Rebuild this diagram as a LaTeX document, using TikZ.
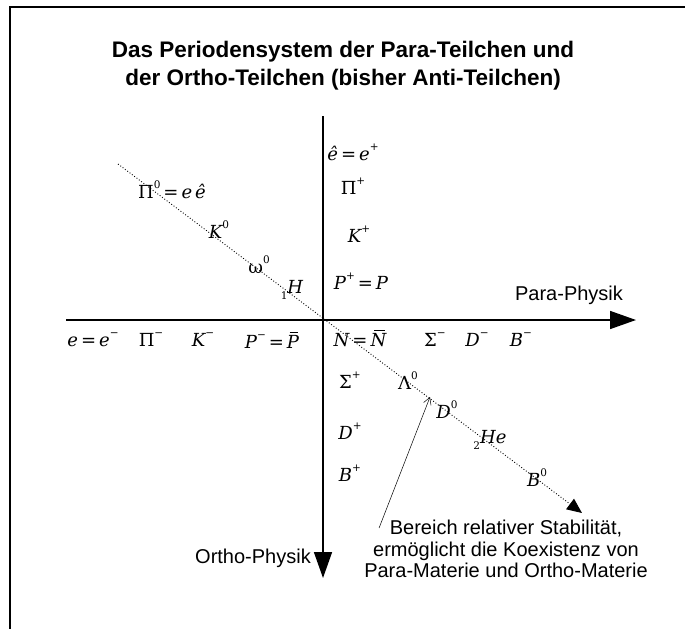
\documentclass[tikz,border=0pt]{standalone}
\usepackage{fontspec}
\setsansfont{Liberation Sans}
\newfontfamily\partfont{DejaVu Serif}
\usetikzlibrary{arrows.meta,calc}

% charge as a small raised index, nucleon number as a lowered one
\newcommand{\charge}[1]{\raisebox{0.55em}{\upshape\fontsize{10.5}{10.5}\selectfont#1}}
\newcommand{\nucl}[1]{\raisebox{-0.3em}{\upshape\fontsize{10.5}{10.5}\selectfont#1}}
\newcommand{\grk}[1]{{\upshape#1}}
\newcommand{\anti}[1]{\setbox0\hbox{#1}\rlap{\kern0.22\wd0\rule[0.86em]{0.7\wd0}{0.06em}}\box0}

\begin{document}
\begin{tikzpicture}[
    x=1pt, y=-1pt,
    particle/.style={
        inner sep=0pt,
        font=\partfont\itshape\fontsize{18}{20}\selectfont
    },
    caption/.style={
        inner sep=0pt,
        align=center,
        font=\sffamily\fontsize{20}{21.5}\selectfont
    },
    heading/.style={
        caption,
        font=\sffamily\bfseries\fontsize{22.5}{28}\selectfont
    },
    axis/.style={
        line width=1.6pt,
        -{Triangle[length=26pt,width=18pt]}
    },
    diagonal/.style={
        dotted,
        line width=0.9pt,
        -{Triangle[length=15pt,width=13pt]}
    },
    pointer/.style={
        line width=0.5pt,
        -{Straight Barb[length=7pt,width=8pt]}
    }
]

\useasboundingbox (0,0) rectangle (685,629);

% --- Frame (top and left edge) ---
\draw[line width=1.3pt] (685,7) -- (10,7) -- (10,629);

% --- Title ---
\node[heading] (title) at (343,66)
    {Das Periodensystem der Para-Teilchen und\\der Ortho-Teilchen (bisher Anti-Teilchen)};

% --- Axes ---
\coordinate (xstart) at (66,320);
\coordinate (xend) at (636,320);
\coordinate (ystart) at (323,116);
\coordinate (yend) at (323,578);
\coordinate (dstart) at (118,164);
\coordinate (dend) at (582,513);

\draw[axis] (xstart) -- (xend);
\draw[axis] (ystart) -- (yend);
\draw[diagonal] (dstart) -- (dend);

\node[caption] (para) at (569,295) {Para-Physik};
\node[caption] (ortho) at (253,558) {Ortho-Physik};

% --- Upper left: neutral particles on the diagonal ---
\node[particle] (pizero) at (172,190) {\grk{Π}\charge{0}\,=\,e\,ê};
\node[particle] (kzero) at (219,230) {K\charge{0}};
\node[particle] (omzero) at (259,265) {\grk{ω}\charge{0}};
\node[particle] (hydrogen) at (292,290) {\nucl{1}H};

% --- Upper right: Para-Teilchen ---
\node[particle] (eplus) at (353,152) {ê\,=\,e\charge{+}};
\node[particle] (piplus) at (353,186) {\grk{Π}\charge{+}};
\node[particle] (kplus) at (359,234) {K\charge{+}};
\node[particle] (pplus) at (361,281) {P\charge{+}\,=\,P};

% --- Below the Para axis ---
\node[particle] (eminus) at (93,340) {e\,=\,e\charge{−}};
\node[particle] (piminus) at (151,340) {\grk{Π}\charge{−}};
\node[particle] (kminus) at (203,340) {K\charge{−}};
\node[particle] (pminus) at (272,340) {P\charge{−}\,=\,\anti{P}};
\node[particle] (neutron) at (360,338) {N\,=\,\anti{N}};
\node[particle] (sigminus) at (435,340) {\grk{Σ}\charge{−}};
\node[particle] (dminus) at (477,340) {D\charge{−}};
\node[particle] (bminus) at (521,340) {B\charge{−}};

% --- Lower right: Ortho-Teilchen and the diagonal ---
\node[particle] (sigplus) at (350,380) {\grk{Σ}\charge{+}};
\node[particle] (dplus) at (350,431) {D\charge{+}};
\node[particle] (bplus) at (350,473) {B\charge{+}};
\node[particle] (lamzero) at (408,381) {\grk{Λ}\charge{0}};
\node[particle] (dzero) at (447,410) {D\charge{0}};
\node[particle] (helium) at (490,440) {\nucl{2}He};
\node[particle] (bzero) at (537,478) {B\charge{0}};

% --- Note on the stable region ---
\node[caption] (note) at (506,549)
    {Bereich relativer Stabilität,\\ermöglicht die Koexistenz von\\Para-Materie und Ortho-Materie};
\coordinate (stable) at (430,397);
\draw[pointer] ([shift={(15,8)}]note.north west) -- (stable);

\end{tikzpicture}
\end{document}
